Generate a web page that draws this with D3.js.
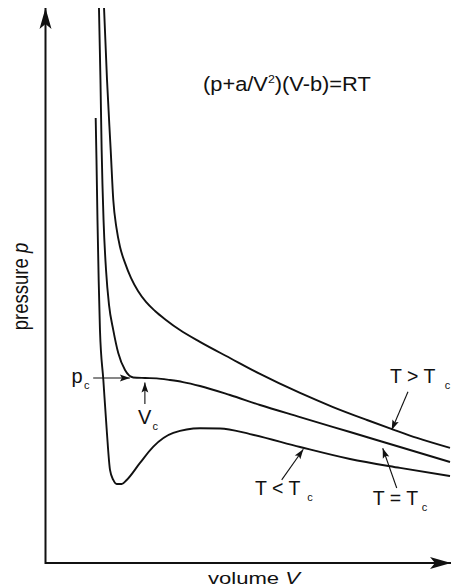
<!DOCTYPE html>
<html><head><meta charset="utf-8">
<script src="https://cdn.jsdelivr.net/npm/d3@7"></script>
<style>
html,body{margin:0;padding:0;background:#fff;}
svg{display:block;}
text{font-family:"Liberation Sans",Arial,Helvetica,sans-serif;fill:#111;}
</style>
</head><body>
<svg id="c" width="454" height="588"></svg>
<script>
// Van der Waals isotherms in reduced units (V/Vc, p/pc)
const isothermNames = ["T > Tc", "T = Tc", "T < Tc"];

const volAbove  = [0.589,0.619,0.656,0.682,0.714,0.750,0.800,0.860,0.931,1.011,1.102,1.212,1.353,1.554,1.856,2.158,2.561,2.893,3.235,3.486,3.738,4.070];
const presAbove = [3.000,2.611,2.232,1.962,1.811,1.708,1.622,1.541,1.470,1.411,1.362,1.314,1.259,1.195,1.108,1.022,0.919,0.843,0.773,0.724,0.676,0.622];

const volCrit  = [0.538,0.553,0.565,0.584,0.609,0.639,0.682,0.732,0.800,0.883,1.001,1.119,1.253,1.383,1.554,1.856,2.158,2.561,3.064,3.567,4.070];
const presCrit = [3.000,2.611,2.232,1.854,1.584,1.395,1.259,1.135,1.043,1.003,1.000,0.998,0.989,0.978,0.957,0.908,0.854,0.789,0.708,0.627,0.546];

const volBelow  = [0.505,0.513,0.523,0.535,0.548,0.582,0.616,0.649,0.682,0.716,0.767,0.817,0.951,1.085,1.286,1.554,1.756,2.058,2.561,3.064,3.567,4.070];
const presBelow = [2.405,2.178,1.854,1.530,1.259,0.989,0.719,0.503,0.449,0.427,0.427,0.449,0.541,0.629,0.703,0.728,0.727,0.697,0.627,0.562,0.514,0.470];

// critical point (reduced units)
const critV = 1.0, critP = 1.0;
// where the label arrows touch the isotherms
const labelVol  = [3.483, 3.393, 2.594];
const labelPres = [0.719, 0.620, 0.615];
const labelMain = ["T > T", "T = T", "T < T"];
const labelSub  = ["c", "c", "c"];

const axisTitleX = "volume ", axisVarX = "V";
const axisTitleY = "pressure ", axisVarY = "p";

const svg = d3.select("#c");
const x = d3.scaleLinear().domain([0, 4.09]).range([45.5, 452]);
const y = d3.scaleLinear().domain([0, 3.0]).range([563, 8]);

const defs = svg.append("defs");
defs.append("marker").attr("id","head").attr("markerUnits","userSpaceOnUse")
  .attr("viewBox","-11 -5 12 10").attr("refX",0).attr("refY",0)
  .attr("markerWidth",12).attr("markerHeight",10).attr("orient","auto")
  .append("path").attr("d","M0,0 L-10,-3.4 L-8,0 L-10,3.4 Z").attr("fill","#111");
defs.append("marker").attr("id","axhead").attr("markerUnits","userSpaceOnUse")
  .attr("viewBox","-22 -7 23 14").attr("refX",0).attr("refY",0)
  .attr("markerWidth",23).attr("markerHeight",14).attr("orient","auto")
  .append("path").attr("d","M0,0 L-21,-6 L-16,0 L-21,6 Z").attr("fill","#111");

// axes (arrow tips at the ends of the scale ranges)
const x0 = x.range()[0], y0 = y.range()[0];
svg.append("line").attr("x1",x0).attr("y1",y0).attr("x2",x.range()[1]-1).attr("y2",y0)
  .attr("stroke","#111").attr("stroke-width",2).attr("marker-end","url(#axhead)");
svg.append("line").attr("x1",x0).attr("y1",y0+1).attr("x2",x0).attr("y2",y.range()[1])
  .attr("stroke","#111").attr("stroke-width",2).attr("marker-end","url(#axhead)");

// curves
const line = d3.line().x(d=>x(d[0])).y(d=>y(d[1])).curve(d3.curveMonotoneX);
const series = [
  d3.zip(volAbove, presAbove),
  d3.zip(volCrit, presCrit),
  d3.zip(volBelow, presBelow)
];
svg.selectAll("path.iso").data(series).join("path").attr("class","iso")
  .attr("d", line).attr("fill","none").attr("stroke","#111").attr("stroke-width",1.9)
  .attr("stroke-linejoin","round");

// axis titles
const tx = svg.append("text").attr("transform","translate(208,584)")
  .attr("font-size",17).attr("textLength",92).attr("lengthAdjust","spacingAndGlyphs");
tx.append("tspan").text(axisTitleX);
tx.append("tspan").attr("font-style","italic").text(axisVarX);

const ty = svg.append("text").attr("transform","translate(27.5,286.5) scale(1.15,1) rotate(-90)")
  .attr("font-size",18.5).attr("text-anchor","middle");
ty.append("tspan").text(axisTitleY);
ty.append("tspan").attr("font-style","italic").text(axisVarY);

// equation
const eq = svg.append("text").attr("transform","translate(203,91) scale(1.12,1)").attr("font-size",19.5);
eq.append("tspan").text("(p+a/V");
eq.append("tspan").attr("font-size",11).attr("dy",-8).text("2");
eq.append("tspan").attr("dy",8).text(")(V-b)=RT");

// isotherm labels with arrows
const tailOff = [[16.3,-38.3],[14,39.7],[-21.6,30.7]];
const textOff = [[-1.7,-47.3],[-10,56.7],[-48.3,45.7]];
const subOff  = [[53,-41],[39,63],[4,52]];
labelVol.forEach((v,i)=>{
  const px = x(v), py = y(labelPres[i]);
  svg.append("line").attr("x1",px+tailOff[i][0]).attr("y1",py+tailOff[i][1])
    .attr("x2",px).attr("y2",py).attr("stroke","#111").attr("stroke-width",1.1)
    .attr("marker-end","url(#head)");
  svg.append("text").attr("x",px+textOff[i][0]).attr("y",py+textOff[i][1])
    .attr("font-size",19.5).text(labelMain[i]);
  svg.append("text").attr("x",px+subOff[i][0]).attr("y",py+subOff[i][1])
    .attr("font-size",11).text(labelSub[i]);
});

// p_c arrow
const cx = x(critV), cy = y(critP);
svg.append("line").attr("x1",cx-51.7).attr("y1",cy).attr("x2",cx-15).attr("y2",cy)
  .attr("stroke","#111").attr("stroke-width",1.1).attr("marker-end","url(#head)");
svg.append("text").attr("x",cx-73.5).attr("y",cy+5).attr("font-size",20).text("p");
svg.append("text").attr("x",cx-61).attr("y",cy+11).attr("font-size",11).text("c");
// V_c arrow
svg.append("line").attr("x1",cx).attr("y1",cy+26).attr("x2",cx).attr("y2",cy+4.5)
  .attr("stroke","#111").attr("stroke-width",1.1).attr("marker-end","url(#head)");
svg.append("text").attr("x",cx-7).attr("y",cy+45.5).attr("font-size",20).text("V");
svg.append("text").attr("x",cx+7.5).attr("y",cy+52).attr("font-size",11).text("c");
</script>
</body></html>
